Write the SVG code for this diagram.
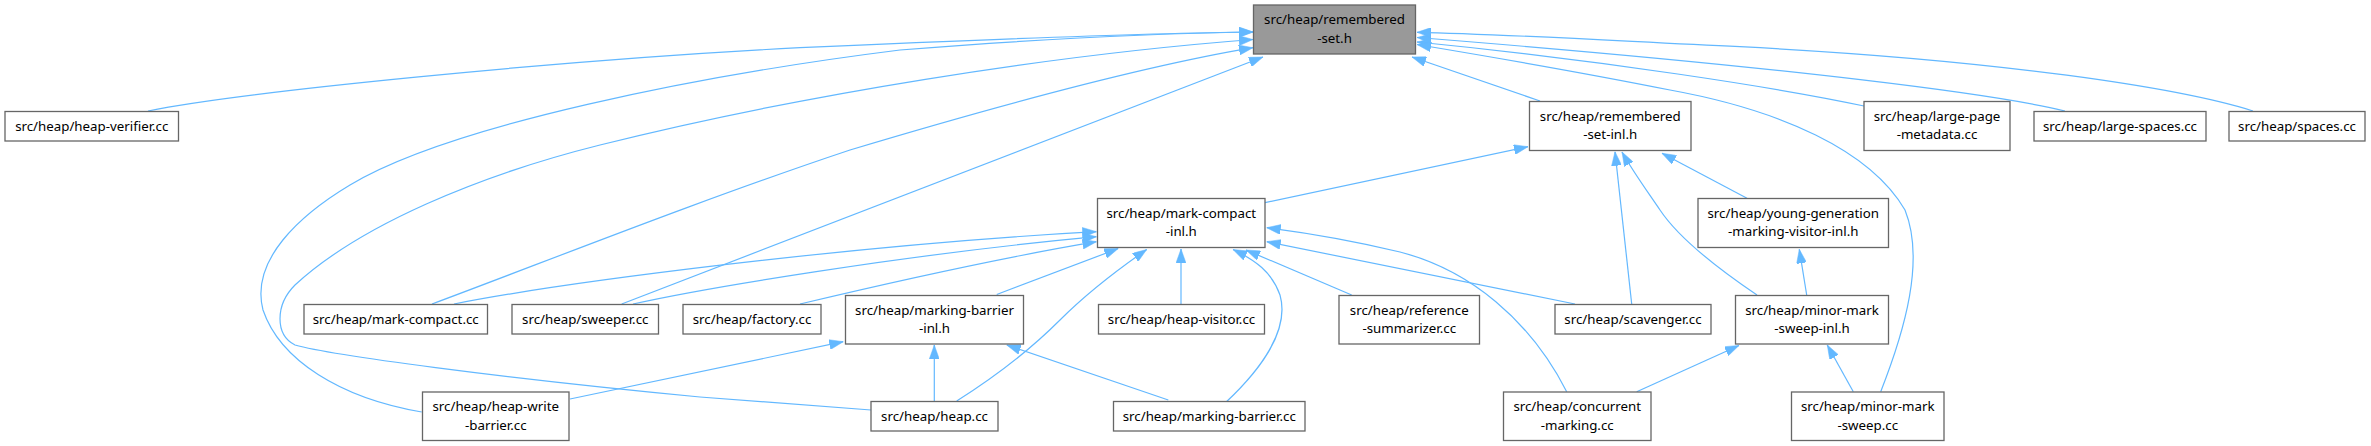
<svg xmlns="http://www.w3.org/2000/svg" width="2371" height="446" viewBox="0 0 2371 446">
<style>
.n rect{fill:#ffffff;stroke:#666666;stroke-width:1.3}
.n.root rect{fill:#999999}
.n text{font-family:"Noto Sans","Liberation Sans",sans-serif;font-size:13.3px;fill:#000000;text-anchor:middle}
.e path{fill:none;stroke:#63b8ff;stroke-width:1.2;marker-end:url(#arr)}
</style>
<defs>
<marker id="arr" viewBox="0 0 14 10" refX="14" refY="5" markerWidth="14" markerHeight="10" markerUnits="userSpaceOnUse" orient="auto">
<path d="M0,0 L14,5 L0,10 z" fill="#63b8ff" stroke="#63b8ff" stroke-width="0.5"/>
</marker>
</defs>
<rect x="0" y="0" width="2371" height="446" fill="#ffffff"/>
<g id="edges" class="e">
<path d="M148,111 C 240,92 560,60 800,47.7 C 950,41 1150,33 1253,32"/>
<path d="M421.7,412 C 340,398 280,360 263,310 C 250,260 300,215 350,185 C 450,125 700,75 900,50 C 1050,38 1180,33 1253,32"/>
<path d="M871,410 L 700,397 C 500,378 330,355 295,345 C 275,335 275,305 295,285 C 360,225 480,175 600,145 C 800,95 1050,55 1253,39.5"/>
<path d="M432,304 C 550,260 700,200 850,150 C 1000,105 1150,65 1253,47.7"/>
<path d="M621.7,304 L 1263,57"/>
<path d="M1540,101 L 1412,57"/>
<path d="M1864,106 C 1780,88 1600,60 1417,42"/>
<path d="M2065,111 C 2000,95 1800,68 1417,37.5"/>
<path d="M2253,111 C 2180,88 2000,60 1740,46.7 C 1600,40 1500,34 1417,32.3"/>
<path d="M1880.7,391.7 C 1905,330 1925,260 1905,210 C 1870,150 1780,110 1670,90 C 1580,72 1480,55 1417,44.5"/>
<path d="M1265,202.7 L 1528,146.7"/>
<path d="M454,304 C 560,283 850,245 1096.5,231.7"/>
<path d="M633,304 C 700,289 900,255 1096.5,236.7"/>
<path d="M800,304 C 880,285 1000,258 1096.5,241.7"/>
<path d="M996.7,294.5 L 1118.3,248.5"/>
<path d="M956.7,401 C 990,380 1030,350 1060,320 C 1090,290 1120,268 1146.7,249.5"/>
<path d="M1181,304.5 L 1181,249"/>
<path d="M1226.7,401.5 C 1260,370 1290,330 1280,295 C 1272,272 1255,260 1233,249.5"/>
<path d="M1351.7,295 L 1246,250"/>
<path d="M1575,304 L 1266.7,241.7"/>
<path d="M1566.7,391.7 C 1530,320 1470,270 1400,252 C 1350,240 1300,232 1266.7,227.7"/>
<path d="M1631.7,304 L 1615,151.7"/>
<path d="M1757,295 C 1720,270 1680,240 1660,210 C 1645,188 1632,170 1622,152"/>
<path d="M1747,198.3 L 1662,153.3"/>
<path d="M1806.7,295 L 1799.3,249.3"/>
<path d="M1853.3,391.7 L 1827.3,345"/>
<path d="M1636.7,391.7 L 1739,345.5"/>
<path d="M570,399 L 843.3,341.7"/>
<path d="M934.3,401 L 934.3,345"/>
<path d="M1168.3,400 L 1006.7,345"/>
</g>
<g id="n-remembered-set-h" class="n root"><rect x="1253.5" y="5" width="162" height="49"/><text x="1334.5" y="24">src/heap/remembered</text><text x="1334.5" y="42.5">-set.h</text></g>
<g id="n-heap-verifier" class="n"><rect x="5" y="111.5" width="173.5" height="29.5"/><text x="91.75" y="131">src/heap/heap-verifier.cc</text></g>
<g id="n-remembered-set-inl" class="n"><rect x="1529.5" y="101.5" width="161.5" height="49"/><text x="1610.25" y="120.5">src/heap/remembered</text><text x="1610.25" y="139">-set-inl.h</text></g>
<g id="n-large-page-metadata" class="n"><rect x="1864" y="101.5" width="146" height="49"/><text x="1937" y="120.5">src/heap/large-page</text><text x="1937" y="139">-metadata.cc</text></g>
<g id="n-large-spaces" class="n"><rect x="2034" y="111.5" width="172" height="29.5"/><text x="2120" y="131">src/heap/large-spaces.cc</text></g>
<g id="n-spaces" class="n"><rect x="2229" y="111.5" width="136" height="29.5"/><text x="2297" y="131">src/heap/spaces.cc</text></g>
<g id="n-mark-compact-inl" class="n"><rect x="1097.5" y="198.5" width="167.5" height="49"/><text x="1181.25" y="217.5">src/heap/mark-compact</text><text x="1181.25" y="236">-inl.h</text></g>
<g id="n-young-generation" class="n"><rect x="1698" y="198.5" width="190.5" height="49"/><text x="1793.25" y="217.5">src/heap/young-generation</text><text x="1793.25" y="236">-marking-visitor-inl.h</text></g>
<g id="n-mark-compact-cc" class="n"><rect x="304" y="304.5" width="183.5" height="29.5"/><text x="395.75" y="324">src/heap/mark-compact.cc</text></g>
<g id="n-sweeper" class="n"><rect x="512" y="304.5" width="146.5" height="29.5"/><text x="585.25" y="324">src/heap/sweeper.cc</text></g>
<g id="n-factory" class="n"><rect x="683" y="304.5" width="138" height="29.5"/><text x="752" y="324">src/heap/factory.cc</text></g>
<g id="n-marking-barrier-inl" class="n"><rect x="845.5" y="295.5" width="178" height="48.5"/><text x="934.5" y="314.5">src/heap/marking-barrier</text><text x="934.5" y="333">-inl.h</text></g>
<g id="n-heap-visitor" class="n"><rect x="1098.5" y="304.5" width="166" height="29.5"/><text x="1181.5" y="324">src/heap/heap-visitor.cc</text></g>
<g id="n-reference-summarizer" class="n"><rect x="1339" y="295.5" width="140.5" height="48.5"/><text x="1409.25" y="314.5">src/heap/reference</text><text x="1409.25" y="333">-summarizer.cc</text></g>
<g id="n-scavenger" class="n"><rect x="1555" y="304.5" width="156" height="29.5"/><text x="1633" y="324">src/heap/scavenger.cc</text></g>
<g id="n-minor-mark-sweep-inl" class="n"><rect x="1735.5" y="295.5" width="153" height="48.5"/><text x="1812" y="314.5">src/heap/minor-mark</text><text x="1812" y="333">-sweep-inl.h</text></g>
<g id="n-heap-write-barrier" class="n"><rect x="422.5" y="392" width="146.5" height="48.5"/><text x="495.75" y="411">src/heap/heap-write</text><text x="495.75" y="429.5">-barrier.cc</text></g>
<g id="n-heap-cc" class="n"><rect x="871" y="401.5" width="127" height="29.5"/><text x="934.5" y="421">src/heap/heap.cc</text></g>
<g id="n-marking-barrier-cc" class="n"><rect x="1113.5" y="401.5" width="191.5" height="29.5"/><text x="1209.25" y="421">src/heap/marking-barrier.cc</text></g>
<g id="n-concurrent-marking" class="n"><rect x="1503.5" y="392" width="147.5" height="48.5"/><text x="1577.25" y="411">src/heap/concurrent</text><text x="1577.25" y="429.5">-marking.cc</text></g>
<g id="n-minor-mark-sweep" class="n"><rect x="1791.5" y="392" width="152.5" height="48.5"/><text x="1867.75" y="411">src/heap/minor-mark</text><text x="1867.75" y="429.5">-sweep.cc</text></g>
</svg>
